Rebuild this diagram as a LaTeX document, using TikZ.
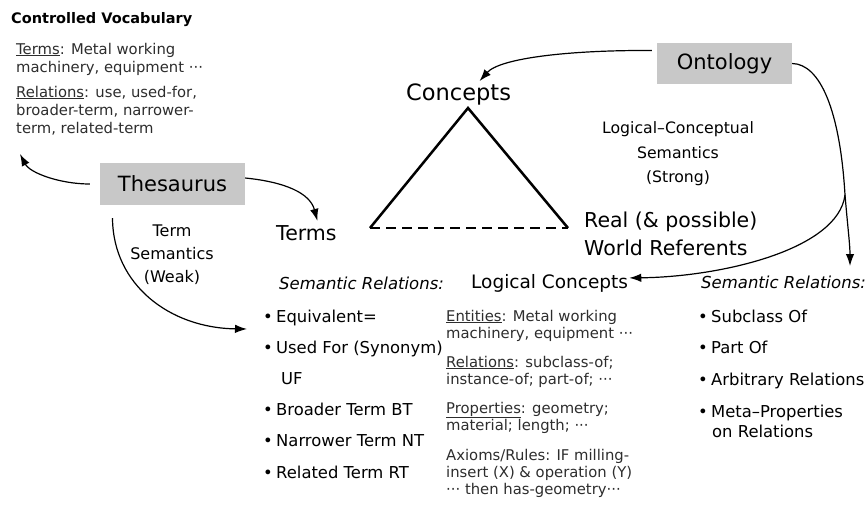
\documentclass[tikz,border=0pt]{standalone}
\usepackage{fontspec}
\setmainfont{DejaVu Sans}
\usetikzlibrary{arrows.meta}
\definecolor{boxgray}{RGB}{200,200,200}
\definecolor{bodygray}{RGB}{45,45,45}
\newcommand{\myfs}[1]{\fontsize{#1pt}{#1pt}\selectfont}
\newcommand{\bul}{\makebox[13pt][l]{•}}
\begin{document}
\begin{tikzpicture}[x=1pt,y=-1pt,
  lbl/.style={inner sep=1pt, anchor=base west},
  body/.style={lbl, font=\myfs{14.8}, text=bodygray},
  item/.style={lbl, font=\myfs{16.4}},
  ctr/.style={inner sep=1pt, anchor=base, font=\myfs{16}},
  big/.style={inner sep=1pt, anchor=base west, font=\myfs{20.5}},
  gbox/.style={fill=boxgray, inner sep=0pt, font=\myfs{21}},
  conn/.style={-{Latex[length=12pt,width=8.5pt]}, line width=1.2pt},
  plainconn/.style={line width=1.2pt},
  tri/.style={line width=2.5pt}]
\useasboundingbox (0,0) rectangle (865,504);

% Controlled vocabulary block
\node[lbl, font=\myfs{14.5}\bfseries] (cvtitle) at (10,23) {Controlled Vocabulary};
\node[body] (cv1) at (15,54) {\underline{Terms}: Metal working};
\node[body] (cv2) at (15,72) {machinery, equipment ···};
\node[body] (cv3) at (15,97) {\underline{Relations}: use, used-for,};
\node[body] (cv4) at (15,115) {broader-term, narrower-};
\node[body] (cv5) at (15,133) {term, related-term};
\coordinate (cvend) at (20,154);

% Thesaurus
\node[gbox, minimum width=145pt, minimum height=42pt] (thes) at (172.5,184) {Thesaurus};
\node[ctr] (ts1) at (172,236) {Term};
\node[ctr] (ts2) at (172,259) {Semantics};
\node[ctr] (ts3) at (172,282) {(Weak)};

% Triangle labels
\node[big] (terms) at (275,240) {Terms};
\node[big, font=\myfs{22.5}] (conc) at (405,100) {Concepts};
\node[big] (real1) at (583,227) {Real (\& possible)};
\node[big] (real2) at (583,255) {World Referents};

% Triangle
\coordinate (apex) at (468,108);
\coordinate (bl) at (370,228);
\coordinate (br) at (568,228);
\draw[tri, line join=miter] (bl) -- (apex) -- (br);
\draw[tri, dash pattern=on 10pt off 6pt] (bl) -- (br);

% Ontology
\node[gbox, minimum width=135pt, minimum height=41pt] (ont) at (724.5,63.5) {Ontology};
\node[ctr, font=\myfs{15.7}] (lcs1) at (678,133) {Logical–Conceptual};
\node[ctr, font=\myfs{15.7}] (lcs2) at (678,158) {Semantics};
\node[ctr, font=\myfs{15.7}] (lcs3) at (678,182) {(Strong)};

% Left semantic relations
\node[lbl, font=\myfs{16.5}\itshape] (srl) at (278,289) {Semantic Relations:};
\node[item] (eq) at (262,322) {\bul Equivalent=};
\node[item] (uf1) at (262,353) {\bul Used For (Synonym)};
\node[item] (uf2) at (280,384) {UF};
\node[item] (bt) at (262,415) {\bul Broader Term BT};
\node[item] (nt) at (262,446) {\bul Narrower Term NT};
\node[item] (rt) at (262,478) {\bul Related Term RT};
\coordinate (relin) at (247,329);

% Logical concepts
\node[lbl, font=\myfs{18.5}] (lc) at (470,288) {Logical Concepts};
\node[body] (lc1) at (445,321) {\underline{Entities}: Metal working};
\node[body] (lc2) at (445,338) {machinery, equipment ···};
\node[body] (lc3) at (445,367) {\underline{Relations}: subclass-of;};
\node[body] (lc4) at (445,384) {instance-of; part-of; ···};
\node[body] (lc5) at (445,413) {\underline{Properties}: geometry;};
\node[body] (lc6) at (445,430) {material; length; ···};
\node[body] (lc7) at (445,460) {Axioms/Rules: IF milling-};
\node[body] (lc8) at (445,477) {insert (X) \& operation (Y)};
\node[body] (lc9) at (445,494) {··· then has-geometry···};

% Right semantic relations
\node[lbl, font=\myfs{16.5}\itshape] (srr) at (700,288) {Semantic Relations:};
\node[item] (sc) at (697,322) {\bul Subclass Of};
\node[item] (po) at (697,353) {\bul Part Of};
\node[item] (ar) at (697,385) {\bul Arbitrary Relations};
\node[item] (mp1) at (697,417) {\bul Meta–Properties};
\node[item] (mp2) at (711,437) {on Relations};

% Connectors
\draw[conn] ([xshift=-10pt]thes.west) .. controls (60,184) and (30,173) .. (cvend);
\draw[conn] ([yshift=6pt]thes.east) .. controls (285,182) and (310,193) .. ([xshift=11pt,yshift=3pt]terms.north);
\draw[conn] ([xshift=-60pt,yshift=-13pt]thes.south) .. controls (113,285) and (170,328) .. (relin);
\draw[conn] ([xshift=-5pt,yshift=13pt]ont.west) .. controls (570,50) and (500,58) .. ([xshift=21pt,yshift=1pt]conc.north);
\coordinate (branch) at (845,195);
\coordinate (downend) at (850,266);
\draw[plainconn] (ont.east) .. controls (820,64) and (840,110) .. (branch);
\draw[conn] (branch) .. controls (848,230) and (850,245) .. (downend);
\draw[conn] (branch) .. controls (838,250) and (720,277) .. ([yshift=5pt]lc.east);
\end{tikzpicture}
\end{document}
